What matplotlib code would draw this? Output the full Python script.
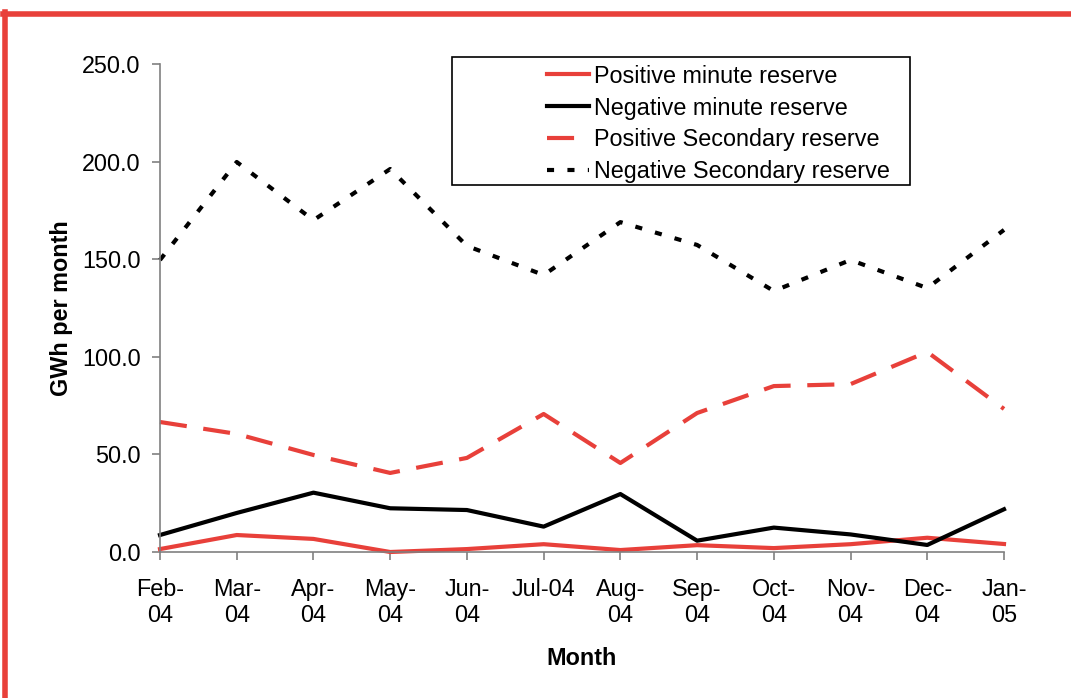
import numpy as np
import matplotlib.pyplot as plt
from matplotlib.patches import Rectangle
from matplotlib.lines import Line2D

plt.rcParams['font.family'] = ['Liberation Sans', 'DejaVu Sans']

months = ["Feb-\n04", "Mar-\n04", "Apr-\n04", "May-\n04", "Jun-\n04", "Jul-04",
          "Aug-\n04", "Sep-\n04", "Oct-\n04", "Nov-\n04", "Dec-\n04", "Jan-\n05"]

pos_minute = [1.5, 8.7, 6.7, 0.0, 1.5, 4.0, 1.0, 3.5, 2.0, 4.0, 7.3, 4.1]
neg_minute = [8.7, 20.0, 30.4, 22.4, 21.5, 13.0, 29.7, 5.8, 12.5, 9.0, 3.6, 21.9]
pos_secondary = [66.6, 60.5, 49.7, 40.5, 48.2, 70.7, 45.6, 71.2, 85.0, 86.0, 102.5, 73.3]
neg_secondary = [149.6, 199.8, 170.0, 196.2, 156.8, 141.9, 169.0, 157.3, 133.7, 149.6, 135.2, 165.0]

red = "#e8403a"
grey = "#808080"
fs = 16.8

fig = plt.figure(figsize=(10.71, 6.98), dpi=100)
ax = fig.add_axes([160/1071, 1 - 552/698, (1004-160)/1071, (552-64)/698])

x = np.arange(len(months))
ax.plot(x, pos_minute, color=red, lw=3, label="Positive minute reserve")
ax.plot(x, neg_minute, color="black", lw=3, label="Negative minute reserve")
ax.plot(x, pos_secondary, color=red, lw=3, dashes=(6.5, 4), label="Positive Secondary reserve")
ax.plot(x, neg_secondary, color="black", lw=3, dashes=(1.7, 3.2), label="Negative Secondary reserve")

ax.set_xlim(0, len(months) - 1)
ax.set_ylim(0, 250)
ax.set_yticks(np.arange(0, 251, 50))
ax.set_yticklabels(["%.1f" % v for v in np.arange(0, 251, 50)], fontsize=fs)
ax.set_xticks(x)
ax.set_xticklabels(months, fontsize=fs, linespacing=1.12)

for s in ["top", "right"]:
    ax.spines[s].set_visible(False)
for s in ["left", "bottom"]:
    ax.spines[s].set_color(grey)
    ax.spines[s].set_linewidth(1.2)
ax.tick_params(axis="both", color=grey, length=6, width=1.2, direction="out")
ax.tick_params(axis="x", pad=13)
ax.tick_params(axis="y", pad=8)
for ln in ax.lines:
    ln.set_clip_on(False)

ax.set_xlabel("Month", fontsize=fs, fontweight="bold", labelpad=15)
ax.set_ylabel("GWh per month", fontsize=fs, fontweight="bold", labelpad=6)

# legend box
fig.patches.append(Rectangle((452/1071, 1 - 185/698), (910-452)/1071, (185-57)/698,
                             transform=fig.transFigure, fill=False, edgecolor="black",
                             lw=1.2, figure=fig))
leg = fig.legend(loc="upper left", bbox_to_anchor=(528/1071, 1 - 46/698), frameon=False,
                 fontsize=fs, handlelength=1.8, handletextpad=0.25, labelspacing=0.38,
                 borderpad=0.3)

# red border (top and left)
fig.add_artist(Line2D([3/1071, 1], [1 - 14/698, 1 - 14/698], color=red, lw=4,
                      transform=fig.transFigure))
fig.add_artist(Line2D([5/1071, 5/1071], [0, 1 - 12/698], color=red, lw=4,
                      transform=fig.transFigure))

fig.savefig("out.png", dpi=100)
